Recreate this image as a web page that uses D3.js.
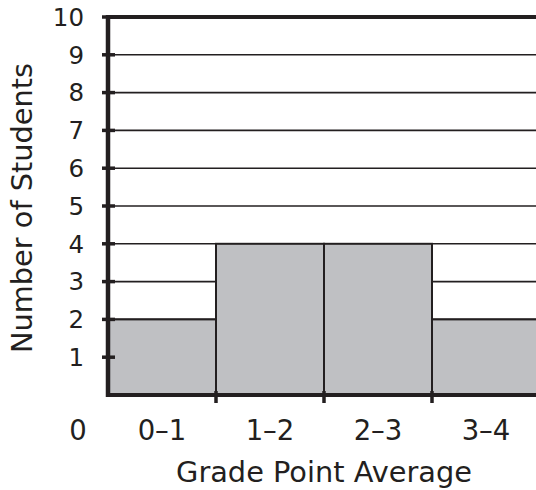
<!DOCTYPE html>
<html><head><meta charset="utf-8">
<script src="https://cdn.jsdelivr.net/npm/d3@7"></script>
<style>body{margin:0;background:#fff}svg{display:block}text{font-family:"DejaVu Sans",Verdana,sans-serif;fill:#231f20}</style>
</head><body>
<script>
const categories = ["0–1","1–2","2–3","3–4"];
const binStart = [0,1,2,3];
const binEnd = [1,2,3,4];
const counts = [2,4,4,2];
const yTicks = [1,2,3,4,5,6,7,8,9,10];
const xTitle = "Grade Point Average";
const yTitle = "Number of Students";

const W=536,H=490, ink="#231f20";
const svg=d3.select("body").append("svg").attr("width",W).attr("height",H);
const x=d3.scaleLinear().domain([0,4]).range([108,540]);
const y=d3.scaleLinear().domain([0,10]).range([395,17]);

// gridlines
svg.append("g").selectAll("line").data(yTicks.filter(d=>d<10)).join("line")
  .attr("x1",x(0)).attr("x2",W).attr("y1",d=>y(d)).attr("y2",d=>y(d))
  .attr("stroke",ink).attr("stroke-width",1.6);
// bars
svg.append("g").selectAll("rect").data(counts).join("rect")
  .attr("x",(d,i)=>x(binStart[i])).attr("width",(d,i)=>x(binEnd[i])-x(binStart[i]))
  .attr("y",d=>y(d)).attr("height",d=>y(0)-y(d))
  .attr("fill","#bfc0c3").attr("stroke",ink).attr("stroke-width",2);
// top line
svg.append("line").attr("x1",x(0)-2).attr("x2",W).attr("y1",y(10)).attr("y2",y(10)).attr("stroke",ink).attr("stroke-width",4);
// axes lines
svg.append("line").attr("x1",x(0)).attr("x2",x(0)).attr("y1",y(10)-2).attr("y2",y(0)+2).attr("stroke",ink).attr("stroke-width",4.5);
svg.append("line").attr("x1",x(0)-2).attr("x2",W).attr("y1",y(0)).attr("y2",y(0)).attr("stroke",ink).attr("stroke-width",4);
// y ticks
svg.append("g").selectAll("line").data(yTicks).join("line")
  .attr("x1",x(0)-6).attr("x2",x(0)+7).attr("y1",d=>y(d)).attr("y2",d=>y(d))
  .attr("stroke",ink).attr("stroke-width",3.5);
// x ticks
svg.append("g").selectAll("line").data([1,2,3]).join("line")
  .attr("x1",d=>x(d)).attr("x2",d=>x(d)).attr("y1",y(0)-4).attr("y2",y(0)+8)
  .attr("stroke",ink).attr("stroke-width",3.5);
// y labels
svg.append("g").selectAll("text").data(yTicks).join("text")
  .attr("x",84).attr("y",d=>y(d)).attr("dy","0.36em").attr("text-anchor","end")
  .attr("font-size",24.5).text(d=>d);
svg.append("text").attr("x",78).attr("y",430).attr("dy","0.36em").attr("text-anchor","middle").attr("font-size",27.5).text("0");
// x labels
svg.append("g").selectAll("text").data(categories).join("text")
  .attr("x",(d,i)=>(x(binStart[i])+x(binEnd[i]))/2).attr("y",430).attr("dy","0.36em")
  .attr("text-anchor","middle").attr("font-size",27.5).text(d=>d);
svg.append("text").attr("x",324).attr("y",472).attr("dy","0.36em").attr("text-anchor","middle").attr("font-size",28.8).text(xTitle);
svg.append("text").attr("transform","translate(22,208) rotate(-90)").attr("dy","0.36em").attr("text-anchor","middle").attr("font-size",28.8).text(yTitle);
</script>
</body></html>
